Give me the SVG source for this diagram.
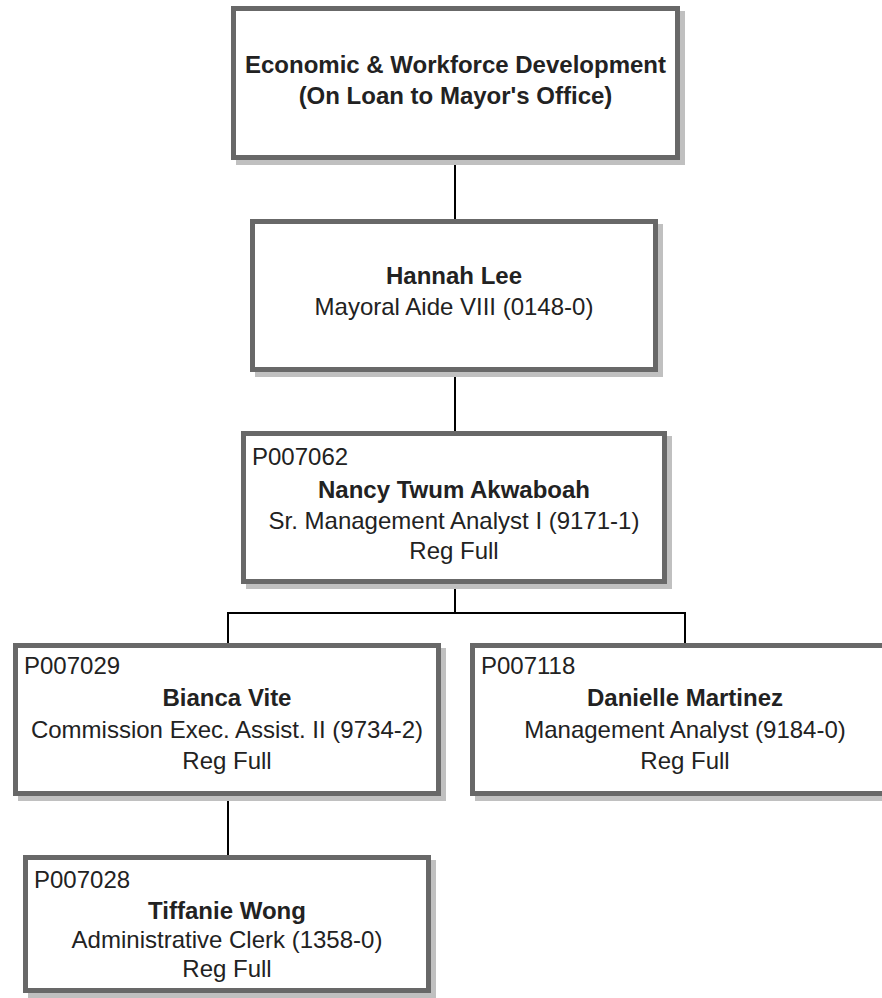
<svg xmlns="http://www.w3.org/2000/svg" width="882" height="998" viewBox="0 0 882 998">
  <style>
    .shadow { fill: #c0c0c0; }
    .box { fill: #ffffff; stroke: #686868; stroke-width: 5; }
    .t { font-family: "Liberation Sans", Arial, sans-serif; font-size: 24px; fill: #222222; }
    .c { text-anchor: middle; }
    .b { font-weight: bold; }
    .link { stroke: #000000; stroke-width: 2; fill: none; }
  </style>
  <rect width="882" height="998" fill="#ffffff"/>

  <!-- reporting lines -->
  <g id="connectors">
    <line class="link" x1="455" y1="160" x2="455" y2="220"/>
    <line class="link" x1="455" y1="372" x2="455" y2="432"/>
    <polyline class="link" points="455,584 455,613"/>
    <polyline class="link" points="228,644 228,613 685,613 685,644"/>
    <line class="link" x1="228" y1="796" x2="228" y2="856"/>
  </g>

  <g id="node-ewd">
    <rect class="shadow" x="236" y="11" width="449" height="154"/>
    <rect class="box" x="233.5" y="8.5" width="444" height="149"/>
    <text class="t c b" x="455.5" y="73">Economic &amp; Workforce Development</text>
    <text class="t c b" x="455.5" y="104">(On Loan to Mayor's Office)</text>
  </g>

  <g id="node-hannah-lee">
    <rect class="shadow" x="255" y="224" width="408" height="153"/>
    <rect class="box" x="252.5" y="221.5" width="403" height="148"/>
    <text class="t c b" x="454" y="284">Hannah Lee</text>
    <text class="t c" x="454" y="315">Mayoral Aide VIII (0148-0)</text>
  </g>

  <g id="node-p007062">
    <rect class="shadow" x="246" y="436" width="426" height="153"/>
    <rect class="box" x="243.5" y="433.5" width="421" height="148"/>
    <text class="t" x="252" y="465">P007062</text>
    <text class="t c b" x="454" y="498">Nancy Twum Akwaboah</text>
    <text class="t c" x="454" y="529">Sr. Management Analyst I (9171-1)</text>
    <text class="t c" x="454" y="559">Reg Full</text>
  </g>

  <g id="node-p007029">
    <rect class="shadow" x="18" y="648" width="428" height="153"/>
    <rect class="box" x="15.5" y="645.5" width="423" height="148"/>
    <text class="t" x="24" y="674">P007029</text>
    <text class="t c b" x="227" y="706">Bianca Vite</text>
    <text class="t c" x="227" y="738">Commission Exec. Assist. II (9734-2)</text>
    <text class="t c" x="227" y="769">Reg Full</text>
  </g>

  <g id="node-p007118">
    <rect class="shadow" x="475" y="648" width="430" height="153"/>
    <rect class="box" x="472.5" y="645.5" width="425" height="148"/>
    <text class="t" x="481" y="674">P007118</text>
    <text class="t c b" x="685" y="706">Danielle Martinez</text>
    <text class="t c" x="685" y="738">Management Analyst (9184-0)</text>
    <text class="t c" x="685" y="769">Reg Full</text>
  </g>

  <g id="node-p007028">
    <rect class="shadow" x="28" y="860" width="408" height="138"/>
    <rect class="box" x="25.5" y="857.5" width="403" height="133"/>
    <text class="t" x="34" y="888">P007028</text>
    <text class="t c b" x="227" y="919">Tiffanie Wong</text>
    <text class="t c" x="227" y="948">Administrative Clerk (1358-0)</text>
    <text class="t c" x="227" y="977">Reg Full</text>
  </g>
</svg>
